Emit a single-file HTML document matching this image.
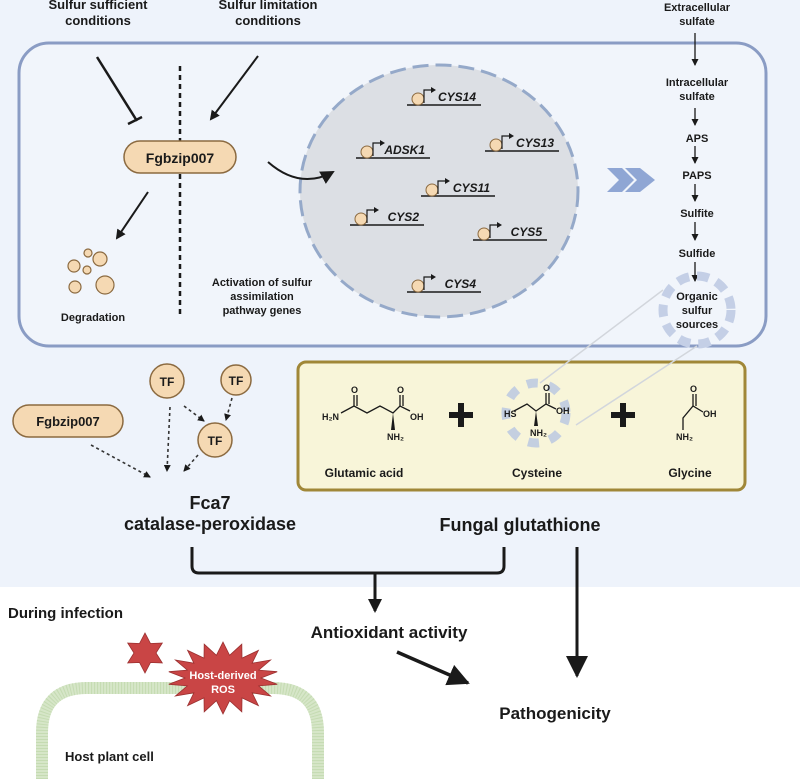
<!DOCTYPE html>
<html><head><meta charset="utf-8"><style>
html,body{margin:0;padding:0;background:#fff}
svg{display:block}
text{font-family:"Liberation Sans",Arial,sans-serif;font-weight:bold;fill:#1a1a1a}
.g{font-style:italic;font-size:12px}
.s{font-size:12px}
</style></head><body>
<svg id="s" width="800" height="779" viewBox="0 0 800 779" xmlns="http://www.w3.org/2000/svg">
<defs>
<marker id="ah" markerWidth="10" markerHeight="10" refX="8" refY="5" orient="auto" markerUnits="userSpaceOnUse"><path d="M0,0 L10,5 L0,10 z" fill="#1a1a1a"/></marker>
<marker id="as" markerWidth="7" markerHeight="7" refX="6" refY="3.5" orient="auto" markerUnits="userSpaceOnUse"><path d="M0,0 L7,3.5 L0,7 z" fill="#1a1a1a"/></marker>
<marker id="ab" markerWidth="22" markerHeight="22" refX="20" refY="11" orient="auto" markerUnits="userSpaceOnUse"><path d="M0,0 L22,11 L0,22 z" fill="#1a1a1a"/></marker>
<marker id="am" markerWidth="14" markerHeight="14" refX="12" refY="7" orient="auto" markerUnits="userSpaceOnUse"><path d="M0,0 L14,7 L0,14 z" fill="#1a1a1a"/></marker>
</defs>
<rect x="0" y="0" width="800" height="587" fill="#eef3fb"/>
<!-- header -->
<text x="98" y="9" text-anchor="middle" font-size="13">Sulfur sufficient</text>
<text x="98" y="25" text-anchor="middle" font-size="13">conditions</text>
<text x="268" y="9" text-anchor="middle" font-size="13">Sulfur limitation</text>
<text x="268" y="25" text-anchor="middle" font-size="13">conditions</text>
<rect x="19" y="43" width="747" height="303" rx="30" fill="#f1f5fb" stroke="#8a9cc4" stroke-width="3"/>
<line x1="97" y1="57" x2="137" y2="121" stroke="#1a1a1a" stroke-width="2.5"/>
<line x1="128" y1="124" x2="142" y2="117" stroke="#1a1a1a" stroke-width="2.5"/>
<line x1="258" y1="56" x2="211" y2="119" stroke="#1a1a1a" stroke-width="2" marker-end="url(#ah)"/>
<line x1="180" y1="66" x2="180" y2="316" stroke="#1a1a1a" stroke-width="2.5" stroke-dasharray="5,4"/>
<rect x="124" y="141" width="112" height="32" rx="16" fill="#f5d9b3" stroke="#8b6a40" stroke-width="1.5"/>
<text x="180" y="163" text-anchor="middle" font-size="14">Fgbzip007</text>
<line x1="148" y1="192" x2="117" y2="238" stroke="#1a1a1a" stroke-width="2" marker-end="url(#ah)"/>
<g fill="#f5d9b3" stroke="#8b6a40" stroke-width="1.2">
<circle cx="88" cy="253" r="4"/><circle cx="100" cy="259" r="7"/><circle cx="74" cy="266" r="6"/><circle cx="87" cy="270" r="4"/><circle cx="75" cy="287" r="6"/><circle cx="105" cy="285" r="9"/></g>
<text x="93" y="321" text-anchor="middle" font-size="11">Degradation</text>
<text x="262" y="286" text-anchor="middle" font-size="11">Activation of sulfur</text>
<text x="262" y="300" text-anchor="middle" font-size="11">assimilation</text>
<text x="262" y="314" text-anchor="middle" font-size="11">pathway genes</text>
<!-- nucleus -->
<ellipse cx="439" cy="191" rx="139" ry="126" fill="#dcdfe4" stroke="#95a9c9" stroke-width="3" stroke-dasharray="16,7"/>
<path d="M268,162 Q300,190 333,172" fill="none" stroke="#1a1a1a" stroke-width="2" marker-end="url(#am)"/>
<g id="genes"></g>
<!-- chevrons -->
<path d="M607,168 L622,168 L634,180 L622,192 L607,192 L619,180 z M625,168 L640,168 L655,180 L640,192 L625,192 L637,180 z" fill="#8fa6d4"/>
<!-- pathway -->
<g font-size="11">
<text x="697" y="11" text-anchor="middle" font-size="11">Extracellular</text>
<text x="697" y="25" text-anchor="middle" font-size="11">sulfate</text>
<text x="697" y="86" text-anchor="middle" font-size="11">Intracellular</text>
<text x="697" y="100" text-anchor="middle" font-size="11">sulfate</text>
<text x="697" y="142" text-anchor="middle" font-size="11">APS</text>
<text x="697" y="179" text-anchor="middle" font-size="11">PAPS</text>
<text x="697" y="217" text-anchor="middle" font-size="11">Sulfite</text>
<text x="697" y="257" text-anchor="middle" font-size="11">Sulfide</text>
</g>
<g stroke="#1a1a1a" stroke-width="1.3">
<line x1="695" y1="33" x2="695" y2="65" marker-end="url(#as)"/>
<line x1="695" y1="108" x2="695" y2="125" marker-end="url(#as)"/>
<line x1="695" y1="146" x2="695" y2="163" marker-end="url(#as)"/>
<line x1="695" y1="184" x2="695" y2="201" marker-end="url(#as)"/>
<line x1="695" y1="222" x2="695" y2="240" marker-end="url(#as)"/>
<line x1="695" y1="262" x2="695" y2="281" marker-end="url(#as)"/>
</g>
<circle cx="697" cy="310" r="34" fill="none" stroke="#c4cfe6" stroke-width="9" stroke-dasharray="12,8"/>
<text x="697" y="300" text-anchor="middle" font-size="11">Organic</text>
<text x="697" y="314" text-anchor="middle" font-size="11">sulfur</text>
<text x="697" y="328" text-anchor="middle" font-size="11">sources</text>
<!-- yellow box -->
<rect x="298" y="362" width="447" height="128" rx="8" fill="#f8f5d9" stroke="#a08738" stroke-width="3"/>
<line x1="663" y1="290" x2="540" y2="383" stroke="#d2d6dc" stroke-width="1.5"/>
<line x1="697" y1="346" x2="576" y2="425" stroke="#d2d6dc" stroke-width="1.5"/>
<circle cx="536" cy="413" r="30" fill="none" stroke="#c4cfe0" stroke-width="9" stroke-dasharray="11,11"/>
<g stroke="#1a1a1a" stroke-width="1.3" fill="none">
<path d="M341,413 L354,406 L367,413 L380,406 L393,413 L400,406 L410,411"/>
<line x1="354" y1="406" x2="354" y2="395"/><line x1="357" y1="406" x2="357" y2="395"/>
<line x1="400" y1="406" x2="400" y2="395"/><line x1="403" y1="406" x2="403" y2="395"/>
<path d="M514,411 L527,404 L536,411 L546,404 L556,409"/>
<line x1="546" y1="404" x2="546" y2="393"/><line x1="549" y1="404" x2="549" y2="393"/>
<path d="M683,430 L683,418 L693,406 L703,412"/>
<line x1="693" y1="406" x2="693" y2="394"/><line x1="696" y1="406" x2="696" y2="394"/>
</g>
<path d="M393,413 L391,430 L395,430 z M536,411 L534,426 L538,426 z" fill="#1a1a1a"/>
<g font-size="9" font-weight="normal">
<text x="322" y="420">H₂N</text><text x="351" y="393">O</text><text x="397" y="393">O</text><text x="410" y="420">OH</text><text x="387" y="440">NH₂</text>
<text x="504" y="417">HS</text><text x="543" y="391">O</text><text x="556" y="414">OH</text><text x="530" y="436">NH₂</text>
<text x="690" y="392">O</text><text x="703" y="417">OH</text><text x="676" y="440">NH₂</text>
</g>
<path d="M453,409 h14 v-7 h6 v7 h0" fill="none"/>
<g fill="#1a1a1a"><rect x="449" y="412" width="24" height="6"/><rect x="458" y="403" width="6" height="24"/>
<rect x="611" y="412" width="24" height="6"/><rect x="620" y="403" width="6" height="24"/></g>
<text x="364" y="477" text-anchor="middle" font-size="12">Glutamic acid</text>
<text x="537" y="477" text-anchor="middle" font-size="12">Cysteine</text>
<text x="690" y="477" text-anchor="middle" font-size="12">Glycine</text>
<!-- TF area -->
<g fill="#f5d9b3" stroke="#8b6a40" stroke-width="1.5">
<circle cx="167" cy="381" r="17"/><circle cx="236" cy="380" r="15"/><circle cx="215" cy="440" r="17"/>
<rect x="13" y="405" width="110" height="32" rx="16"/></g>
<text x="167" y="386" text-anchor="middle" font-size="12">TF</text>
<text x="236" y="385" text-anchor="middle" font-size="12">TF</text>
<text x="215" y="445" text-anchor="middle" font-size="12">TF</text>
<text x="68" y="426" text-anchor="middle" font-size="13">Fgbzip007</text>
<g stroke="#333" stroke-width="1.6" stroke-dasharray="3,3" fill="none">
<line x1="91" y1="445" x2="150" y2="477" marker-end="url(#as)"/>
<line x1="170" y1="407" x2="167" y2="471" marker-end="url(#as)"/>
<line x1="184" y1="406" x2="204" y2="421" marker-end="url(#as)"/>
<line x1="232" y1="398" x2="226" y2="420" marker-end="url(#as)"/>
<line x1="198" y1="455" x2="184" y2="471" marker-end="url(#as)"/>
</g>
<text x="210" y="509" text-anchor="middle" font-size="18">Fca7</text>
<text x="210" y="530" text-anchor="middle" font-size="18">catalase-peroxidase</text>
<text x="520" y="531" text-anchor="middle" font-size="18">Fungal glutathione</text>
<path d="M192,547 V566 Q192,573 199,573 H497 Q504,573 504,566 V547" fill="none" stroke="#1a1a1a" stroke-width="3"/>
<line x1="375" y1="574" x2="375" y2="611" stroke="#1a1a1a" stroke-width="3" marker-end="url(#am)"/>
<line x1="577" y1="547" x2="577" y2="676" stroke="#1a1a1a" stroke-width="3" marker-end="url(#ab)"/>
<line x1="397" y1="652" x2="468" y2="683" stroke="#1a1a1a" stroke-width="3.5" marker-end="url(#ab)"/>
<text x="389" y="638" text-anchor="middle" font-size="17">Antioxidant activity</text>
<text x="555" y="719" text-anchor="middle" font-size="17">Pathogenicity</text>
<text x="8" y="618" font-size="15">During infection</text>
<!-- host cell -->
<path d="M42,779 V733 Q42,688 87,688 H273 Q318,688 318,733 V779" fill="none" stroke="#d6e6c8" stroke-width="12"/>
<path d="M42,779 V733 Q42,688 87,688 H273 Q318,688 318,733 V779" fill="none" stroke="#b9d3a3" stroke-width="12" stroke-dasharray="1,2" opacity="0.6"/>
<text x="65" y="761" font-size="13">Host plant cell</text>
<polygon points="145,633 150.5,643.5 162.3,643 156,653 162.3,663 150.5,662.5 145,673 139.5,662.5 127.7,663 134,653 127.7,643 139.5,643.5" fill="#c94545" stroke="#9a3030" stroke-width="0.8"/>
<polygon id="burst" fill="#c94545" stroke="#9a3030" stroke-width="0.8"/>
<text x="223" y="679" text-anchor="middle" font-size="11" style="fill:#fff">Host-derived</text>
<text x="223" y="693" text-anchor="middle" font-size="11" style="fill:#fff">ROS</text>
</svg>
<script>
(function(){
var ns="http://www.w3.org/2000/svg";
var p=[],n=18,cx=223,cy=678;
for(var i=0;i<n*2;i++){var a=Math.PI*i/n-Math.PI/2;var o=i%2==0;var rx=o?55:38,ry=o?36:23;p.push((cx+rx*Math.cos(a)).toFixed(1)+","+(cy+ry*Math.sin(a)).toFixed(1));}
document.getElementById("burst").setAttribute("points",p.join(" "));
var genes=[["CYS14",407,105],["ADSK1",356,158],["CYS13",485,151],["CYS11",421,196],["CYS2",350,225],["CYS5",473,240],["CYS4",407,292]];
var g=document.getElementById("genes"),h="";
genes.forEach(function(d){var x=d[1],y=d[2];
h+='<line x1="'+x+'" y1="'+y+'" x2="'+(x+74)+'" y2="'+y+'" stroke="#1a1a1a" stroke-width="1.5"/>';
h+='<circle cx="'+(x+11)+'" cy="'+(y-6)+'" r="6" fill="#f5d9b3" stroke="#8b6a40" stroke-width="1"/>';
h+='<path d="M'+(x+17)+','+(y-2)+' V'+(y-15)+' H'+(x+24)+'" fill="none" stroke="#1a1a1a" stroke-width="1.2"/>';
h+='<path d="M'+(x+24)+','+(y-18)+' L'+(x+29)+','+(y-15)+' L'+(x+24)+','+(y-12)+' z" fill="#1a1a1a"/>';
h+='<text x="'+(x+69)+'" y="'+(y-4)+'" text-anchor="end" class="g">'+d[0]+'</text>';});
g.innerHTML=h;
})();
</script>
</body></html>
